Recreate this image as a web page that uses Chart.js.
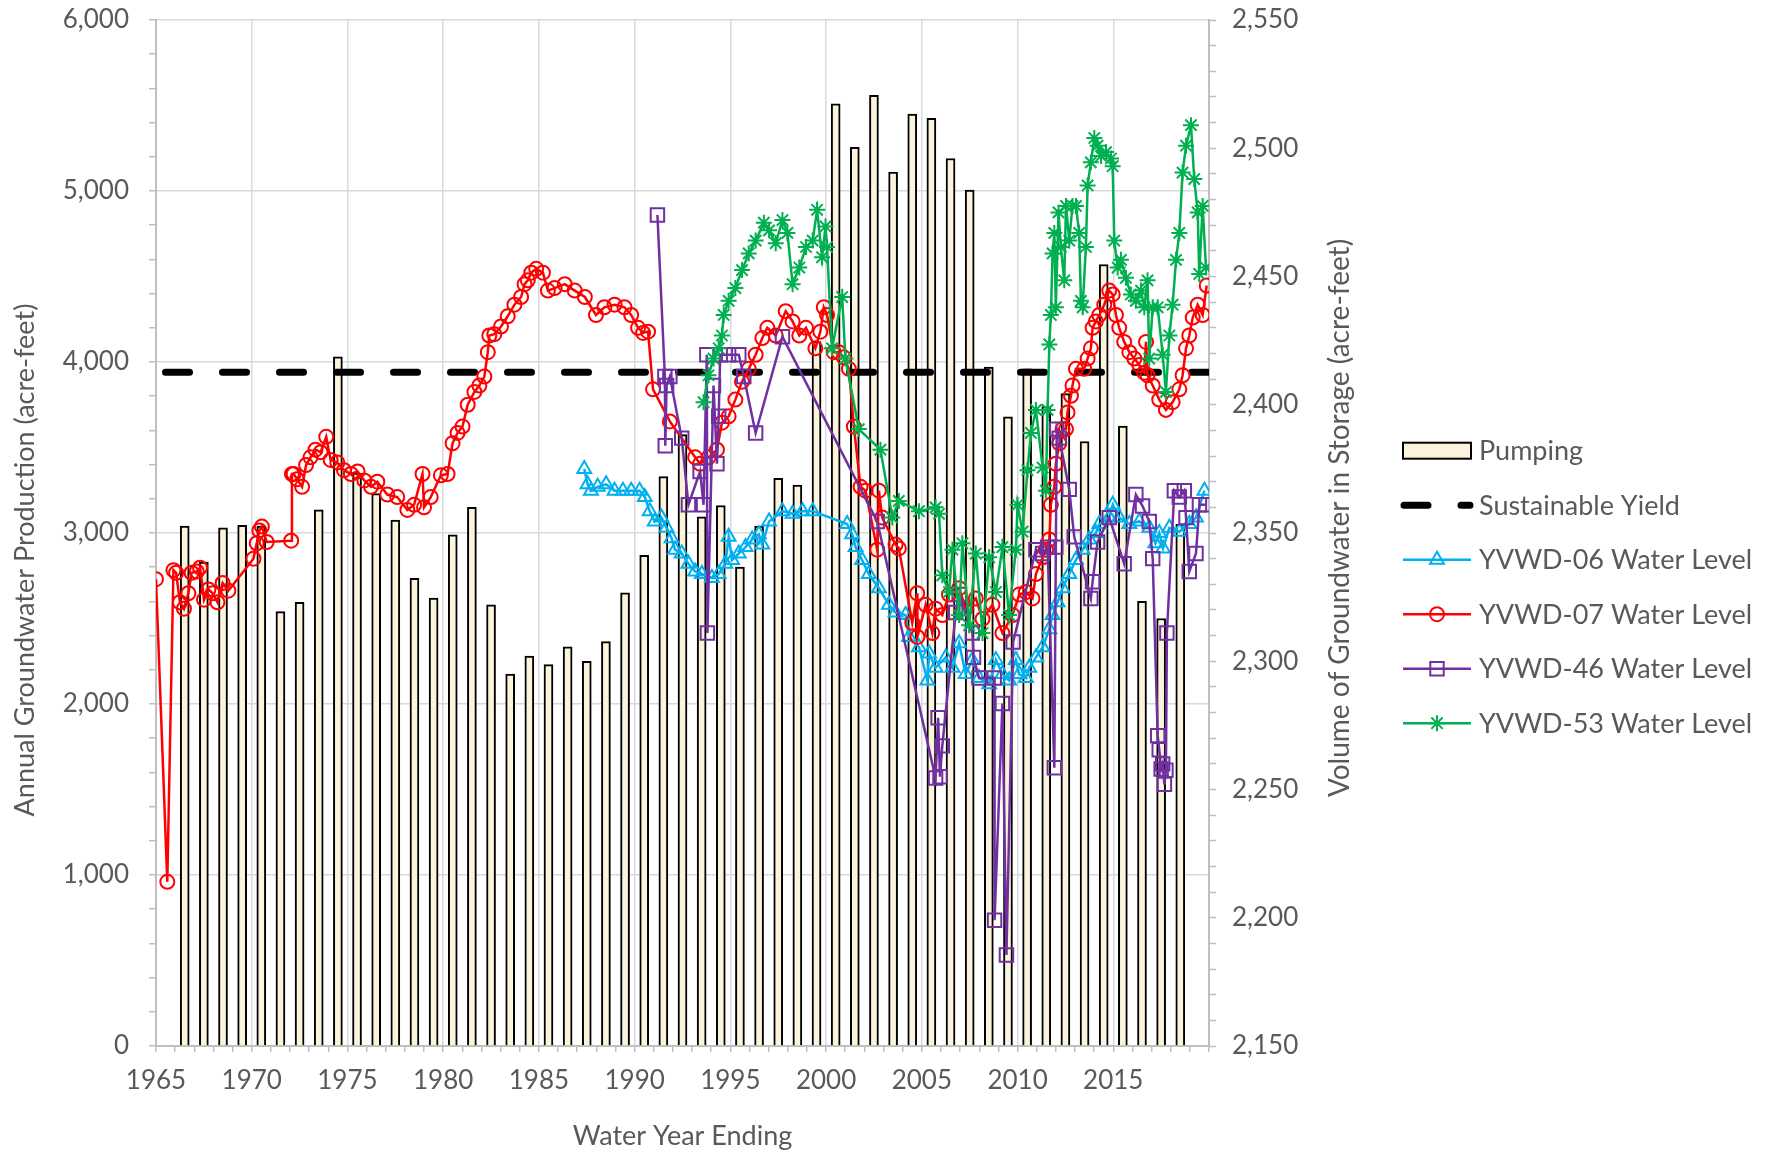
<!DOCTYPE html>
<html>
<head>
<meta charset="utf-8">
<script src="https://cdn.jsdelivr.net/npm/chart.js@4.4.1/dist/chart.umd.min.js"></script>
<style>
  html, body { margin: 0; padding: 0; background: #fff; }
</style>
</head>
<body>
<canvas id="chart" width="1788" height="1154"></canvas>
<script>
// annual pumping, one bar per water year
const waterYears = [];
for (let y = 1966; y <= 2018; y++) waterYears.push(y);
const pumping = [
  3040, 2830, 3030, 3045, 3040, 2540, 2595, 3135, 4030, 3350,
  3230, 3075, 2735, 2620, 2990, 3150, 2580, 2175, 2280, 2230,
  2335, 2250, 2365, 2650, 2870, 3330, 3575, 3095, 3160, 2800,
  3040, 3320, 3280, 4120, 5510, 5255, 5560, 5110, 5450, 5425,
  5190, 5005, 3970, 3680, 3960, 3740, 3815, 3535, 4570, 3625,
  2600, 2500, 3050
];

const sustainableYield = 3940;
const yieldSpan = [1965, 2020];

// well water levels: [decimal year, level]
const yvwd06 = [
  [1987.37, 2375], [1987.54, 2369], [1987.72, 2366.5], [1988.07, 2368], [1988.51, 2369],
  [1988.95, 2366.5], [1989.39, 2366.5], [1989.82, 2366.5], [1990.26, 2366.5], [1990.53, 2364],
  [1990.79, 2358.5], [1991.05, 2354.5], [1991.4, 2356], [1991.67, 2352], [1991.93, 2348],
  [1992.11, 2343.5], [1992.46, 2342], [1992.81, 2338], [1993.16, 2335], [1993.51, 2334],
  [1994.04, 2332.5], [1994.39, 2334], [1994.74, 2338], [1994.91, 2348.5], [1995.09, 2339.5],
  [1995.44, 2342], [1995.79, 2344.5], [1996.14, 2347.5], [1996.49, 2349.5], [1996.67, 2345.5],
  [1997.02, 2354.5], [1997.72, 2358.5], [1998.25, 2357.5], [1998.77, 2358.5], [1999.3, 2358.5],
  [2001.1, 2353.5], [2001.36, 2349.5], [2001.54, 2344.5], [2001.88, 2339.5], [2002.23, 2334],
  [2002.76, 2328.5], [2003.28, 2322], [2003.63, 2319], [2004.15, 2318], [2004.33, 2309.5],
  [2004.85, 2305.5], [2005.29, 2292.5], [2005.38, 2303], [2005.72, 2297.5], [2006.25, 2301.5],
  [2006.6, 2297.5], [2006.95, 2307], [2007.29, 2295], [2007.64, 2300.5], [2007.99, 2293.5],
  [2008.52, 2291], [2008.87, 2300.5], [2009.21, 2295], [2009.56, 2292.5], [2009.91, 2300.5],
  [2010.09, 2295], [2010.44, 2293.5], [2010.61, 2297.5], [2010.96, 2301.5], [2011.31, 2305.5],
  [2011.66, 2312.5], [2011.83, 2318], [2012.09, 2323], [2012.35, 2328.5], [2012.7, 2334],
  [2013.05, 2339.5], [2013.4, 2343.5], [2013.75, 2347.5], [2014.09, 2350], [2014.27, 2353.5],
  [2014.79, 2356], [2014.97, 2361], [2015.31, 2356], [2015.84, 2353.5], [2016.36, 2354.5],
  [2016.88, 2352], [2017.2, 2346], [2017.4, 2350], [2017.6, 2344], [2017.93, 2352],
  [2018.45, 2350.5], [2018.97, 2353.5], [2019.32, 2356], [2019.76, 2366.5]
];

const yvwd07 = [
  [1965.0, 2332], [1965.59, 2214], [1965.91, 2335.5], [1966.05, 2334.5], [1966.25, 2323],
  [1966.46, 2320.5], [1966.69, 2326.5], [1966.86, 2334.5], [1967.13, 2335], [1967.3, 2336.5],
  [1967.51, 2324], [1967.74, 2328], [1967.96, 2326.5], [1968.21, 2323], [1968.48, 2330.5],
  [1968.78, 2327.5], [1970.09, 2340], [1970.26, 2346], [1970.4, 2351], [1970.53, 2352.5],
  [1970.78, 2346.5], [1972.06, 2347], [1972.1, 2373], [1972.19, 2373], [1972.37, 2371],
  [1972.63, 2368], [1972.84, 2376.5], [1973.07, 2379.5], [1973.33, 2382.5], [1973.6, 2381.5],
  [1973.89, 2387.5], [1974.12, 2378.5], [1974.47, 2377.5], [1974.82, 2374.5], [1975.18, 2373],
  [1975.53, 2374], [1975.88, 2370.5], [1976.23, 2368], [1976.56, 2370], [1977.08, 2365],
  [1977.6, 2364], [1978.13, 2359], [1978.48, 2361], [1978.92, 2373], [1979.0, 2360],
  [1979.35, 2364], [1979.88, 2372.5], [1980.23, 2373], [1980.49, 2385], [1980.75, 2389],
  [1981.01, 2391.5], [1981.28, 2400], [1981.63, 2405], [1981.89, 2407.5], [1982.15, 2411],
  [1982.33, 2420.5], [1982.41, 2427], [1982.67, 2427.5], [1983.02, 2430.5], [1983.37, 2434.5],
  [1983.72, 2439], [1984.07, 2442], [1984.25, 2447], [1984.42, 2448.5], [1984.6, 2451.5],
  [1984.86, 2453], [1985.21, 2451.5], [1985.47, 2444.5], [1985.82, 2445.5], [1986.35, 2447],
  [1986.87, 2444.5], [1987.4, 2442], [1987.98, 2435], [1988.42, 2438], [1988.95, 2439],
  [1989.47, 2438], [1989.82, 2435], [1990.18, 2430], [1990.44, 2428], [1990.7, 2428.5],
  [1990.96, 2406], [1991.84, 2393.5], [1993.16, 2379.5], [1993.42, 2377], [1993.86, 2379.5],
  [1994.3, 2382.5], [1994.56, 2393], [1994.91, 2395.5], [1995.26, 2402], [1995.61, 2409],
  [1995.96, 2414], [1996.32, 2419.5], [1996.67, 2426], [1996.93, 2430], [1997.37, 2427],
  [1997.89, 2436.5], [1998.25, 2432.5], [1998.6, 2427], [1998.95, 2430], [1999.44, 2422],
  [1999.7, 2428.5], [1999.88, 2438], [2000.05, 2435], [2000.4, 2420.5], [2000.66, 2420.5],
  [2000.92, 2418.5], [2001.19, 2414], [2001.45, 2391.5], [2001.8, 2368], [2002.06, 2366.5],
  [2002.67, 2343.5], [2002.76, 2366.5], [2002.93, 2356], [2003.63, 2345.5], [2003.8, 2344],
  [2004.5, 2315], [2004.76, 2326.5], [2004.77, 2309.5], [2005.2, 2322], [2005.55, 2311],
  [2005.72, 2320.5], [2006.07, 2318], [2006.42, 2326], [2006.95, 2328.5], [2007.29, 2320.5],
  [2007.82, 2324.5], [2008.17, 2316.5], [2008.69, 2322], [2009.21, 2311], [2009.74, 2318],
  [2010.09, 2326], [2010.44, 2327], [2010.78, 2324.5], [2010.96, 2334], [2011.31, 2340.5],
  [2011.48, 2343.5], [2011.66, 2347.5], [2011.74, 2361], [2011.92, 2368], [2012.0, 2377],
  [2012.18, 2385], [2012.35, 2390.5], [2012.53, 2390.5], [2012.61, 2397], [2012.79, 2403.5],
  [2012.87, 2407.5], [2013.05, 2414], [2013.48, 2414], [2013.66, 2418], [2013.83, 2422],
  [2013.92, 2430], [2014.09, 2432.5], [2014.27, 2435], [2014.53, 2439], [2014.79, 2444.5],
  [2014.97, 2443], [2015.14, 2435], [2015.31, 2430], [2015.57, 2424.5], [2015.84, 2420.5],
  [2016.1, 2418], [2016.36, 2415.5], [2016.62, 2412.5], [2016.71, 2424.5], [2016.79, 2411.5],
  [2017.06, 2407.5], [2017.4, 2402], [2017.75, 2398], [2018.1, 2401], [2018.45, 2406],
  [2018.62, 2411.5], [2018.8, 2422], [2018.97, 2427], [2019.15, 2434], [2019.41, 2439],
  [2019.67, 2435], [2019.88, 2446.5]
];

const yvwd46 = [
  [1991.19, 2474], [1991.58, 2411], [1991.6, 2384], [1991.67, 2407.5], [1991.84, 2411],
  [1992.46, 2387], [1992.81, 2361], [1993.42, 2374], [1993.6, 2361], [1993.77, 2419.5],
  [1993.8, 2311], [1994.12, 2407.5], [1994.3, 2377], [1994.39, 2395.5], [1994.47, 2419.5],
  [1994.91, 2419.5], [1995.44, 2419.5], [1995.7, 2411], [1996.32, 2389], [1997.72, 2426.5],
  [2002.67, 2354.5], [2005.72, 2254.5], [2005.85, 2278], [2005.95, 2255], [2006.07, 2267],
  [2006.77, 2319], [2006.95, 2326], [2007.64, 2311], [2007.7, 2301.5], [2007.99, 2293.5],
  [2008.78, 2293.5], [2008.8, 2199], [2009.21, 2283.5], [2009.42, 2185.5], [2009.77, 2307.5],
  [2010.96, 2343.5], [2011.31, 2342], [2011.57, 2344.5], [2011.92, 2258.5], [2012.0, 2344.5],
  [2012.05, 2390.5], [2012.18, 2387], [2012.7, 2367], [2012.96, 2348.5], [2013.83, 2324.5],
  [2013.92, 2331], [2014.18, 2346.5], [2014.79, 2356], [2015.57, 2338], [2016.18, 2365],
  [2016.53, 2360.5], [2016.88, 2354.5], [2017.06, 2340], [2017.32, 2271], [2017.4, 2265.5],
  [2017.5, 2258], [2017.58, 2260], [2017.67, 2252], [2017.75, 2257.5], [2017.8, 2311],
  [2018.19, 2366.5], [2018.45, 2364], [2018.71, 2366.5], [2018.8, 2356], [2018.97, 2335],
  [2019.32, 2342], [2019.5, 2361], [2019.84, 2361]
];

const yvwd53 = [
  [1993.6, 2401], [1993.86, 2411.5], [1994.12, 2418], [1994.39, 2422], [1994.56, 2427],
  [1994.65, 2435], [1994.91, 2440.5], [1995.26, 2445.5], [1995.61, 2452.5], [1995.96, 2459],
  [1996.32, 2464], [1996.75, 2471], [1997.02, 2468], [1997.37, 2463], [1997.72, 2472],
  [1997.98, 2467], [1998.25, 2447], [1998.6, 2453.5], [1998.95, 2461.5], [1999.3, 2464],
  [1999.53, 2476], [1999.79, 2457.5], [1999.97, 2469.5], [2000.05, 2461.5], [2000.31, 2422],
  [2000.84, 2442], [2001.01, 2418], [2001.71, 2390.5], [2002.84, 2382.5], [2003.46, 2356],
  [2003.8, 2362.5], [2004.85, 2358.5], [2005.72, 2360], [2005.9, 2357.5], [2006.07, 2333.5],
  [2006.42, 2327], [2006.6, 2343.5], [2006.95, 2318], [2007.12, 2346], [2007.47, 2314],
  [2007.82, 2342], [2008.17, 2311], [2008.52, 2340.5], [2008.87, 2327], [2009.21, 2344.5],
  [2009.56, 2318], [2009.91, 2343.5], [2010.0, 2361], [2010.26, 2350.5], [2010.52, 2374.5],
  [2010.7, 2389], [2010.96, 2398], [2011.31, 2375.5], [2011.48, 2366.5], [2011.57, 2398],
  [2011.66, 2423.5], [2011.74, 2435], [2011.83, 2459], [2011.92, 2467], [2012.0, 2438],
  [2012.14, 2475], [2012.26, 2461.5], [2012.44, 2448.5], [2012.53, 2477.5], [2012.7, 2464],
  [2012.87, 2477.5], [2013.05, 2477.5], [2013.22, 2467], [2013.31, 2440.5], [2013.4, 2438],
  [2013.57, 2461.5], [2013.66, 2485.5], [2013.83, 2494.5], [2014.01, 2504], [2014.18, 2501],
  [2014.36, 2497], [2014.62, 2498.5], [2014.88, 2496], [2014.97, 2493], [2015.05, 2464],
  [2015.23, 2453.5], [2015.4, 2456.5], [2015.66, 2449.5], [2015.92, 2443], [2016.18, 2440.5],
  [2016.45, 2444.5], [2016.62, 2438], [2016.79, 2448.5], [2016.88, 2418], [2017.06, 2438],
  [2017.32, 2438], [2017.58, 2419.5], [2017.75, 2405], [2017.93, 2427], [2018.1, 2439],
  [2018.28, 2456.5], [2018.45, 2467], [2018.62, 2490.5], [2018.8, 2501], [2019.06, 2509],
  [2019.23, 2488], [2019.41, 2475], [2019.49, 2451], [2019.67, 2477.5], [2019.84, 2453.5]
];

const FONT = 'Lato';
const TEXT = '#595959';
const leftTitle = 'Annual Groundwater Production (acre-feet)';
const rightTitle = 'Volume of Groundwater in Storage (acre-feet)';

function toPoints(rows) {
  return rows.map(r => ({ x: r[0], y: r[1] }));
}

function wellSet(label, rows, color, style, radius, order) {
  return {
    type: 'line',
    label: label,
    data: toPoints(rows),
    yAxisID: 'y2',
    borderColor: color,
    backgroundColor: 'rgba(0,0,0,0)',
    borderWidth: 2.5,
    tension: 0,
    pointStyle: style,
    pointRadius: radius,
    pointBorderWidth: 2,
    pointBorderColor: color,
    pointBackgroundColor: 'rgba(0,0,0,0)',
    order: order
  };
}

// legend + vertical axis titles, drawn like the spreadsheet ones
const sideLegend = {
  id: 'sideLegend',
  afterDraw(chart) {
    const ctx = chart.ctx;
    const x0 = 1403, x1 = 1471, tx = 1479;
    ctx.save();
    chart.data.datasets.forEach((ds, i) => {
      const y = 450.7 + i * 54.5;
      if (ds.type === 'bar') {
        ctx.fillStyle = ds.backgroundColor;
        ctx.fillRect(x0, y - 8, x1 - x0, 16);
        ctx.strokeStyle = ds.borderColor;
        ctx.lineWidth = 2;
        ctx.strokeRect(x0, y - 8, x1 - x0, 16);
      } else {
        ctx.strokeStyle = ds.borderColor;
        ctx.lineWidth = ds.borderWidth;
        ctx.lineCap = ds.borderCapStyle || 'butt';
        ctx.setLineDash(ds.borderDash || []);
        ctx.lineDashOffset = 0;
        ctx.beginPath();
        ctx.moveTo(ds.borderDash ? x0 + 1 : x0, y);
        ctx.lineTo(ds.borderDash ? x1 - 1 : x1, y);
        ctx.stroke();
        ctx.setLineDash([]);
        ctx.lineCap = 'butt';
        if (ds.pointRadius > 0) {
          ctx.fillStyle = 'rgba(0,0,0,0)';
          ctx.lineWidth = ds.pointBorderWidth;
          Chart.helpers.drawPoint(ctx, {
            pointStyle: ds.pointStyle, radius: ds.pointRadius,
            borderWidth: ds.pointBorderWidth, rotation: 0
          }, (x0 + x1) / 2, y);
        }
      }
      ctx.fillStyle = TEXT;
      ctx.font = '27px ' + FONT;
      ctx.textAlign = 'left';
      ctx.textBaseline = 'middle';
      ctx.fillText(ds.label, tx, y + 1);
    });

    // both titles read bottom to top
    ctx.fillStyle = TEXT;
    ctx.textAlign = 'center';
    ctx.textBaseline = 'middle';
    [[leftTitle, 25, 560, 27], [rightTitle, 1340, 518, 28]].forEach(t => {
      ctx.save();
      ctx.font = t[3] + 'px ' + FONT;
      ctx.translate(t[1], t[2]);
      ctx.rotate(-Math.PI / 2);
      ctx.fillText(t[0], 0, 0);
      ctx.restore();
    });
    ctx.restore();
  }
};

const datasets = [
  {
    type: 'bar',
    label: 'Pumping',
    data: waterYears.map((yr, i) => ({ x: yr + 0.5, y: pumping[i] })),
    yAxisID: 'y',
    backgroundColor: '#fcf3dc',
    borderColor: '#000000',
    borderWidth: 2,
    barThickness: 9,
    order: 6
  },
  {
    type: 'line',
    label: 'Sustainable Yield',
    data: yieldSpan.map(x => ({ x: x, y: sustainableYield })),
    yAxisID: 'y',
    borderColor: '#000000',
    borderWidth: 7,
    borderDash: [24, 33],
    borderDashOffset: 47.5,
    borderCapStyle: 'round',
    pointRadius: 0,
    order: 5
  },
  wellSet('YVWD-06 Water Level', yvwd06, '#00b0f0', 'triangle', 8, 4),
  wellSet('YVWD-07 Water Level', yvwd07, '#ff0000', 'circle', 7, 3),
  wellSet('YVWD-46 Water Level', yvwd46, '#7030a0', 'rect', 9.5, 2),
  wellSet('YVWD-53 Water Level', yvwd53, '#00b050', 'star', 8, 1)
];

const tickFont = { family: FONT, size: 26 };
const titleFont = { family: FONT, size: 27 };

new Chart(document.getElementById('chart').getContext('2d'), {
  type: 'bar',
  data: { datasets: datasets },
  plugins: [sideLegend],
  options: {
    responsive: false,
    animation: false,
    events: [],
    layout: { padding: { left: 0, right: 393, top: 20, bottom: 0 } },
    plugins: { legend: { display: false }, tooltip: { enabled: false } },
    scales: {
      x: {
        type: 'linear',
        min: 1965,
        max: 2020,
        offset: false,
        grid: {
          offset: false,
          color: c => (c.tick && c.tick.value % 5 === 0) ? '#d9d9d9' : 'rgba(0,0,0,0)',
          lineWidth: 1.5,
          tickColor: '#bfbfbf',
          tickWidth: 1.5,
          tickLength: 6
        },
        border: { color: '#bfbfbf', width: 2 },
        ticks: {
          stepSize: 1,
          maxTicksLimit: 1000,
          autoSkip: false,
          maxRotation: 0,
          minRotation: 0,
          padding: 13,
          color: TEXT,
          font: tickFont,
          callback: v => (v % 5 === 0 && v < 2020) ? String(v) : ''
        },
        title: {
          display: true,
          text: 'Water Year Ending',
          color: TEXT,
          font: titleFont,
          padding: { top: 0, bottom: 2 }
        },
        afterFit: s => { s.height = 108; }
      },
      y: {
        type: 'linear',
        position: 'left',
        min: 0,
        max: 6000,
        grid: {
          color: c => (c.tick && c.tick.value % 1000 === 0) ? '#d9d9d9' : 'rgba(0,0,0,0)',
          lineWidth: 1.5,
          tickColor: '#bfbfbf',
          tickWidth: 1.5,
          tickLength: 7
        },
        border: { color: '#bfbfbf', width: 2 },
        ticks: {
          stepSize: 200,
          maxTicksLimit: 1000,
          autoSkip: false,
          padding: 20,
          color: TEXT,
          font: tickFont,
          callback: v => v % 1000 === 0 ? v.toLocaleString('en-US') : ''
        },
        afterFit: s => { s.width = 156; s.paddingTop = 0; s.paddingBottom = 0; }
      },
      y2: {
        type: 'linear',
        position: 'right',
        min: 2150,
        max: 2550,
        grid: {
          drawOnChartArea: false,
          tickColor: '#bfbfbf',
          tickWidth: 1.5,
          tickLength: 7
        },
        border: { color: '#bfbfbf', width: 2 },
        ticks: {
          stepSize: 10,
          maxTicksLimit: 1000,
          autoSkip: false,
          padding: 16,
          color: TEXT,
          font: tickFont,
          callback: v => v % 50 === 0 ? v.toLocaleString('en-US') : ''
        },
        afterFit: s => { s.width = 186; s.paddingTop = 0; s.paddingBottom = 0; }
      }
    }
  }
});
</script>
</body>
</html>
